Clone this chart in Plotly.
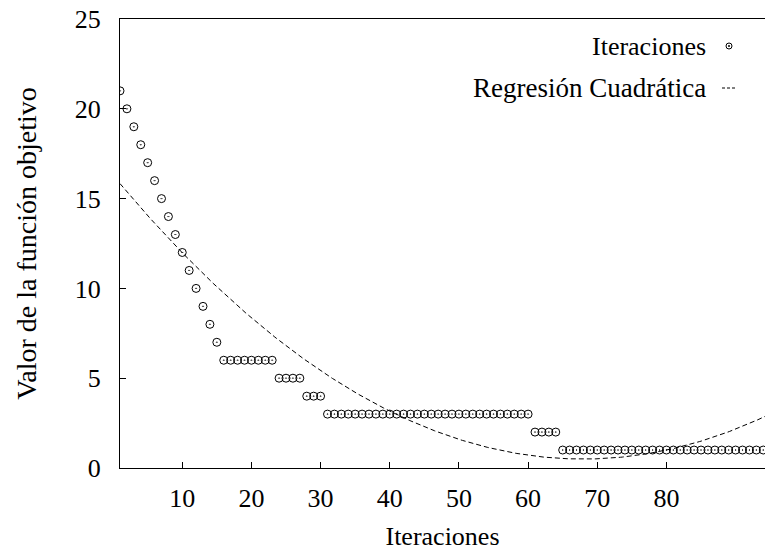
import numpy as np
import plotly.graph_objects as go

# Data
iteraciones = list(range(1, 95))
valores = ([21, 20, 19, 18, 17, 16, 15, 14, 13, 12, 11, 10, 9, 8, 7]
           + [6] * 8 + [5] * 4 + [4] * 3 + [3] * 30 + [2] * 4 + [1] * 30)
x_ticks = [10, 20, 30, 40, 50, 60, 70, 80]
y_ticks = [0, 5, 10, 15, 20, 25]
serie_puntos = "Iteraciones"
serie_reg = "Regresión Cuadrática"

# Quadratic regression of the data
coef = np.polyfit(iteraciones, valores, 2)
xr = np.linspace(1, 96, 400)
yr = np.polyval(coef, xr)

FONT = "Liberation Serif"
FS = 26

fig = go.Figure()
fig.add_trace(go.Scatter(
    x=xr, y=yr, mode="lines", name=serie_reg,
    line=dict(color="black", width=1, dash="5px,3px"),
    showlegend=False,
))
fig.add_trace(go.Scatter(
    x=iteraciones, y=valores, mode="markers", name=serie_puntos,
    marker=dict(symbol="circle-open-dot", size=8, color="black",
                line=dict(width=1, color="black")),
    showlegend=False,
))

# Custom gnuplot-style legend (text left of sample)
fig.add_annotation(xref="paper", yref="paper", x=(708 - 120) / 645, y=(468 - 46) / 449,
                   text=serie_puntos, showarrow=False, xanchor="right", yanchor="middle",
                   font=dict(family=FONT, size=FS, color="black"))
fig.add_annotation(xref="paper", yref="paper", x=(708 - 120) / 645, y=(468 - 88) / 449,
                   text=serie_reg, showarrow=False, xanchor="right", yanchor="middle",
                   font=dict(family=FONT, size=27, color="black"))
cx, cy = (729 - 120) / 645, (468 - 46) / 449
fig.add_shape(type="circle", xref="paper", yref="paper",
              x0=cx - 3 / 645, x1=cx + 3 / 645, y0=cy - 3 / 449, y1=cy + 3 / 449,
              line=dict(color="black", width=1))
fig.add_shape(type="circle", xref="paper", yref="paper",
              x0=cx - 0.6 / 645, x1=cx + 0.6 / 645, y0=cy - 0.6 / 449, y1=cy + 0.6 / 449,
              line=dict(color="black", width=1), fillcolor="black")
ly = (468 - 88) / 449
fig.add_shape(type="line", xref="paper", yref="paper",
              x0=(722 - 120) / 645, x1=(737 - 120) / 645, y0=ly, y1=ly,
              line=dict(color="black", width=1, dash="3px,2px"))

fig.update_layout(
    width=765, height=552,
    margin=dict(l=120, r=0, t=19, b=84),
    paper_bgcolor="white", plot_bgcolor="white",
    font=dict(family=FONT, size=FS, color="black"),
    showlegend=False,
)
fig.update_xaxes(
    range=[1, 94.25], tickvals=x_ticks, ticks="inside", ticklen=6, tickwidth=1,
    tickcolor="black", showline=True, linecolor="black", linewidth=1, mirror=True,
    showgrid=False, zeroline=False, ticklabelstandoff=7,
    title=dict(text="Iteraciones", standoff=14, font=dict(family=FONT, size=FS)),
)
fig.update_yaxes(
    range=[0, 25], tickvals=y_ticks, ticks="inside", ticklen=6, tickwidth=1,
    tickcolor="black", showline=True, linecolor="black", linewidth=1, mirror=False,
    showgrid=False, zeroline=False, ticklabelstandoff=13,
    title=dict(text="Valor de la función objetivo", standoff=29, font=dict(family=FONT, size=28)),
)

fig.write_html("out.html")
